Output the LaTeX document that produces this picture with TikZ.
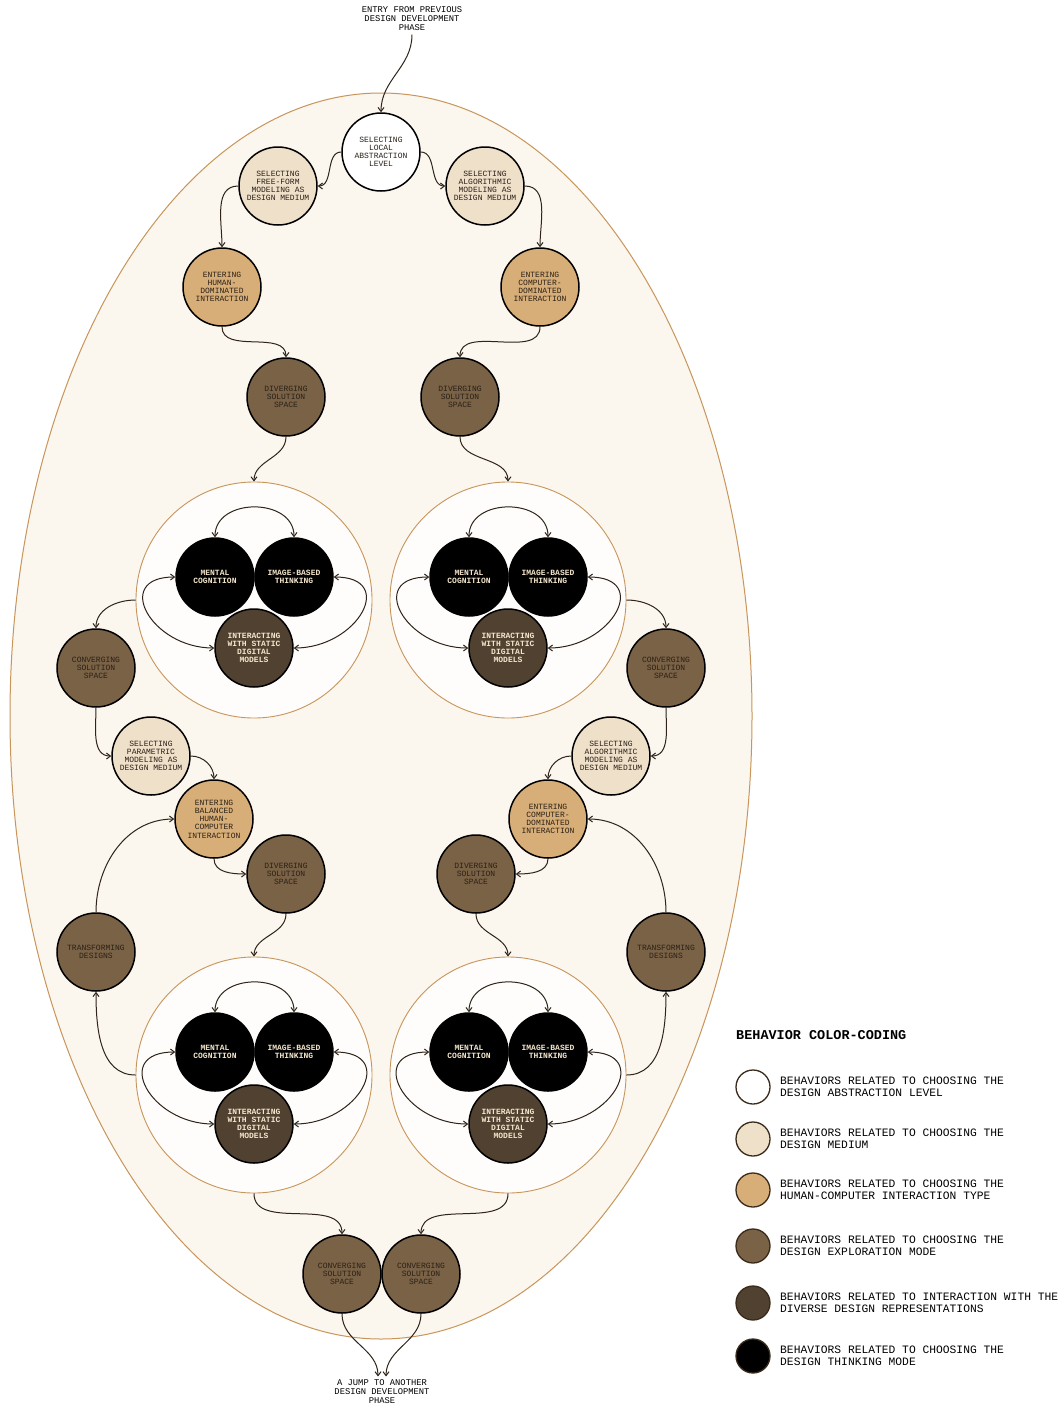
\documentclass[tikz,border=0pt]{standalone}
\usepackage{fontspec}
\usetikzlibrary{arrows.meta}
\newfontfamily\diagfont{Liberation Mono}

\definecolor{shellfill}{HTML}{FBF6EE}
\definecolor{rimline}{HTML}{C8955A}
\definecolor{clusterfill}{HTML}{FEFDFB}
\definecolor{mediumfill}{HTML}{EFE0CA}
\definecolor{hcifill}{HTML}{D8AE78}
\definecolor{explfill}{HTML}{7A6247}
\definecolor{reprfill}{HTML}{514130}
\definecolor{txtdark}{HTML}{2A2016}
\definecolor{txtlight}{HTML}{F4E6CC}
\definecolor{arrowline}{HTML}{2E241A}
\definecolor{keyrim}{HTML}{3A2A1A}

\begin{document}
\begin{tikzpicture}[x=1pt, y=1pt,
    beh/.style={circle, draw=black, line width=1.5pt, minimum size=78pt, inner sep=0pt, align=center, text=txtdark, font=\diagfont\fontsize{8}{8.2}\selectfont},
    levelc/.style={beh, fill=white},
    mediumc/.style={beh, fill=mediumfill},
    hcic/.style={beh, fill=hcifill},
    explc/.style={beh, fill=explfill},
    reprc/.style={beh, fill=reprfill, text=txtlight, font=\diagfont\bfseries\fontsize{8}{8.2}\selectfont},
    thinkc/.style={beh, fill=black, text=txtlight, font=\diagfont\bfseries\fontsize{8}{8.2}\selectfont},
    cluster/.style={circle, draw=rimline, line width=0.9pt, fill=clusterfill, minimum size=236pt, inner sep=0pt},
    flow/.style={draw=arrowline, line width=1pt, -{Straight Barb[length=4pt, width=6pt]}},
    twoway/.style={flow, {Straight Barb[length=4pt, width=6pt]}-{Straight Barb[length=4pt, width=6pt]}},
    phase/.style={align=center, text=black, font=\diagfont\fontsize{8.8}{9}\selectfont},
    keyc/.style={circle, draw=keyrim, line width=1.3pt, minimum size=34pt, inner sep=0pt},
    keytext/.style={anchor=west, align=left, inner sep=0pt, text=black, font=\diagfont\fontsize{11.3}{12}\selectfont}]

    \path[fill=white, use as bounding box] (0,0) rectangle (1063,-1406);

    % the phase shell
    \draw[rimline, line width=1pt, fill=shellfill] (381,-716) ellipse [x radius=371pt, y radius=623pt];

    \node[phase] (entry) at (412,-19) {ENTRY FROM PREVIOUS\\DESIGN DEVELOPMENT\\PHASE};
    \node[phase] (jump) at (382,-1392) {A JUMP TO ANOTHER\\DESIGN DEVELOPMENT\\PHASE};

    % upper part
    \node[levelc] (abstr) at (381,-152) {SELECTING\\LOCAL\\ABSTRACTION\\LEVEL};
    \node[mediumc] (freeform) at (278,-186) {SELECTING\\FREE-FORM\\MODELING AS\\DESIGN MEDIUM};
    \node[mediumc] (algo) at (485,-186) {SELECTING\\ALGORITHMIC\\MODELING AS\\DESIGN MEDIUM};
    \node[hcic] (humandom) at (222,-287) {ENTERING\\HUMAN-\\DOMINATED\\INTERACTION};
    \node[hcic] (compdom) at (540,-287) {ENTERING\\COMPUTER-\\DOMINATED\\INTERACTION};
    \node[explc] (divL) at (286,-397) {DIVERGING\\SOLUTION\\SPACE};
    \node[explc] (divR) at (460,-397) {DIVERGING\\SOLUTION\\SPACE};

    \node[cluster] (clusL) at (254,-600) {};
    \node[thinkc] (mentL) at (215,-577) {MENTAL\\COGNITION};
    \node[thinkc] (imgL) at (294,-577) {IMAGE-BASED\\THINKING};
    \node[reprc] (statL) at (254,-648) {INTERACTING\\WITH STATIC\\DIGITAL\\MODELS};

    \node[cluster] (clusR) at (508,-600) {};
    \node[thinkc] (mentR) at (469,-577) {MENTAL\\COGNITION};
    \node[thinkc] (imgR) at (548,-577) {IMAGE-BASED\\THINKING};
    \node[reprc] (statR) at (508,-648) {INTERACTING\\WITH STATIC\\DIGITAL\\MODELS};

    % middle part
    \node[explc] (convL) at (96,-668) {CONVERGING\\SOLUTION\\SPACE};
    \node[explc] (convR) at (666,-668) {CONVERGING\\SOLUTION\\SPACE};
    \node[mediumc] (param) at (151,-756) {SELECTING\\PARAMETRIC\\MODELING AS\\DESIGN MEDIUM};
    \node[mediumc] (algo2) at (611,-756) {SELECTING\\ALGORITHMIC\\MODELING AS\\DESIGN MEDIUM};
    \node[hcic] (balanced) at (214,-819) {ENTERING\\BALANCED\\HUMAN-\\COMPUTER\\INTERACTION};
    \node[hcic] (compdom2) at (548,-819) {ENTERING\\COMPUTER-\\DOMINATED\\INTERACTION};
    \node[explc] (divL2) at (286,-874) {DIVERGING\\SOLUTION\\SPACE};
    \node[explc] (divR2) at (476,-874) {DIVERGING\\SOLUTION\\SPACE};
    \node[explc] (transL) at (96,-952) {TRANSFORMING\\DESIGNS};
    \node[explc] (transR) at (666,-952) {TRANSFORMING\\DESIGNS};

    % lower part
    \node[cluster] (clusL2) at (254,-1075) {};
    \node[thinkc] (mentL2) at (215,-1052) {MENTAL\\COGNITION};
    \node[thinkc] (imgL2) at (294,-1052) {IMAGE-BASED\\THINKING};
    \node[reprc] (statL2) at (254,-1124) {INTERACTING\\WITH STATIC\\DIGITAL\\MODELS};

    \node[cluster] (clusR2) at (508,-1075) {};
    \node[thinkc] (mentR2) at (469,-1052) {MENTAL\\COGNITION};
    \node[thinkc] (imgR2) at (548,-1052) {IMAGE-BASED\\THINKING};
    \node[reprc] (statR2) at (508,-1124) {INTERACTING\\WITH STATIC\\DIGITAL\\MODELS};

    \node[explc] (convB1) at (342,-1274) {CONVERGING\\SOLUTION\\SPACE};
    \node[explc] (convB2) at (421,-1274) {CONVERGING\\SOLUTION\\SPACE};

    % connectors
    \draw[flow] (entry.south) to[out=-90, in=90] (abstr.north);
    \draw[flow] (abstr.west) to[out=180, in=0] (freeform.east);
    \draw[flow] (abstr.east) to[out=0, in=180] (algo.west);
    \draw[flow] (freeform.west) to[out=180, in=90] (humandom.north);
    \draw[flow] (algo.east) to[out=0, in=90] (compdom.north);
    \draw[flow] (humandom.south) to[out=-90, in=90] (divL.north);
    \draw[flow] (compdom.south) to[out=-90, in=90] (divR.north);
    \draw[flow] (divL.south) to[out=-90, in=90] (clusL.north);
    \draw[flow] (divR.south) to[out=-90, in=90] (clusR.north);

    \draw[twoway] (mentL.north) to[out=90, in=90, looseness=1.3] (imgL.north);
    \draw[twoway] (mentL.west) to[out=180, in=180, looseness=2] (statL.west);
    \draw[twoway] (imgL.east) to[out=0, in=0, looseness=2] (statL.east);
    \draw[twoway] (mentR.north) to[out=90, in=90, looseness=1.3] (imgR.north);
    \draw[twoway] (mentR.west) to[out=180, in=180, looseness=2] (statR.west);
    \draw[twoway] (imgR.east) to[out=0, in=0, looseness=2] (statR.east);

    \draw[flow] (clusL.west) to[out=180, in=90] (convL.north);
    \draw[flow] (clusR.east) to[out=0, in=90] (convR.north);
    \draw[flow] (convL.south) to[out=-90, in=180] (param.west);
    \draw[flow] (convR.south) to[out=-90, in=0] (algo2.east);
    \draw[flow] (param.east) to[out=0, in=90] (balanced.north);
    \draw[flow] (algo2.west) to[out=180, in=90] (compdom2.north);
    \draw[flow] (balanced.south) to[out=-90, in=180] (divL2.west);
    \draw[flow] (compdom2.south) to[out=-90, in=0] (divR2.east);
    \draw[flow] (transL.north) to[out=90, in=180] (balanced.west);
    \draw[flow] (transR.north) to[out=90, in=0] (compdom2.east);
    \draw[flow] (divL2.south) to[out=-90, in=90] (clusL2.north);
    \draw[flow] (divR2.south) to[out=-90, in=90] (clusR2.north);

    \draw[twoway] (mentL2.north) to[out=90, in=90, looseness=1.3] (imgL2.north);
    \draw[twoway] (mentL2.west) to[out=180, in=180, looseness=2] (statL2.west);
    \draw[twoway] (imgL2.east) to[out=0, in=0, looseness=2] (statL2.east);
    \draw[twoway] (mentR2.north) to[out=90, in=90, looseness=1.3] (imgR2.north);
    \draw[twoway] (mentR2.west) to[out=180, in=180, looseness=2] (statR2.west);
    \draw[twoway] (imgR2.east) to[out=0, in=0, looseness=2] (statR2.east);

    \draw[flow] (clusL2.west) to[out=180, in=-90] (transL.south);
    \draw[flow] (clusR2.east) to[out=0, in=-90] (transR.south);
    \draw[flow] (clusL2.south) to[out=-90, in=90] (convB1.north);
    \draw[flow] (clusR2.south) to[out=-90, in=90] (convB2.north);
    \draw[flow] (convB1.south) to[out=-90, in=90] ([xshift=-4pt]jump.north);
    \draw[flow] (convB2.south) to[out=-90, in=90] ([xshift=4pt]jump.north);

    % legend
    \node[anchor=west, inner sep=0pt, text=black, font=\diagfont\bfseries\fontsize{13.5}{14}\selectfont] (keytitle) at (736,-1035) {BEHAVIOR COLOR-CODING};
    \node[keyc, fill=white] (keyA) at (753,-1087) {};
    \node[keyc, fill=mediumfill] (keyB) at (753,-1139) {};
    \node[keyc, fill=hcifill] (keyC) at (753,-1190) {};
    \node[keyc, fill=explfill] (keyD) at (753,-1246) {};
    \node[keyc, fill=reprfill] (keyE) at (753,-1303) {};
    \node[keyc, fill=black] (keyF) at (753,-1356) {};
    \node[keytext] (keyAtext) at (780,-1087) {BEHAVIORS RELATED TO CHOOSING THE\\DESIGN ABSTRACTION LEVEL};
    \node[keytext] (keyBtext) at (780,-1139) {BEHAVIORS RELATED TO CHOOSING THE\\DESIGN MEDIUM};
    \node[keytext] (keyCtext) at (780,-1190) {BEHAVIORS RELATED TO CHOOSING THE\\HUMAN-COMPUTER INTERACTION TYPE};
    \node[keytext] (keyDtext) at (780,-1246) {BEHAVIORS RELATED TO CHOOSING THE\\DESIGN EXPLORATION MODE};
    \node[keytext] (keyEtext) at (780,-1303) {BEHAVIORS RELATED TO INTERACTION WITH THE\\DIVERSE DESIGN REPRESENTATIONS};
    \node[keytext] (keyFtext) at (780,-1356) {BEHAVIORS RELATED TO CHOOSING THE\\DESIGN THINKING MODE};
\end{tikzpicture}
\end{document}
